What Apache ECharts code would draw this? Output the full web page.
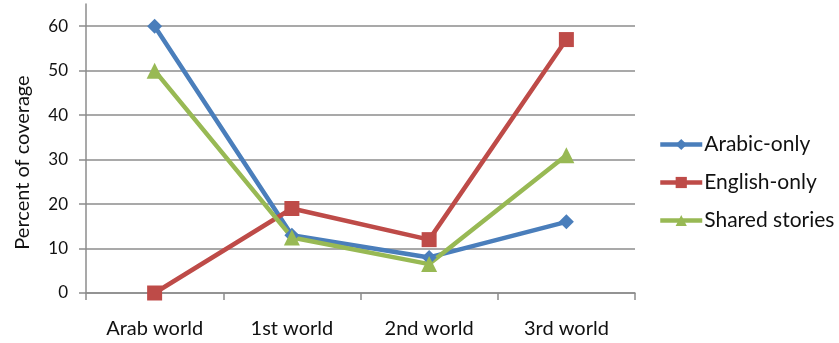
<!DOCTYPE html>
<html>
<head>
<meta charset="utf-8">
<script src="https://cdn.jsdelivr.net/npm/echarts@6/dist/echarts.min.js"></script>
<style>
  html, body { margin: 0; padding: 0; background: #fff; }
  #chart { width: 839px; height: 343px; }
</style>
</head>
<body>
<div id="chart"></div>
<script>
// data
const categories = ['Arab world', '1st world', '2nd world', '3rd world']
const arabicOnly = [60, 13, 8, 16]
const englishOnly = [0, 19, 12, 57]
const sharedStories = [50, 12.5, 6.5, 31]
const yTicks = [0, 10, 20, 30, 40, 50, 60]

const font = 'Lato'
const gridColor = '#8c8c8c'
const textColor = '#111'

const chart = echarts.init(document.getElementById('chart'))

function lineSeries(name, data, color, symbol, size) {
  return {
    name: name,
    type: 'line',
    data: data,
    symbol: symbol,
    symbolSize: size,
    lineStyle: { width: 4.5, color: color },
    itemStyle: { color: color },
    emphasis: { disabled: true },
  }
}

chart.setOption({
  backgroundColor: '#ffffff',
  animation: false,
  textStyle: { fontFamily: font },
  grid: {
    left: 86,
    right: 204,
    top: 4,
    bottom: 50,
  },
  legend: {
    orient: 'vertical',
    left: 658,
    top: 134,
    padding: 0,
    itemWidth: 42,
    itemHeight: 14,
    itemGap: 17,
    lineStyle: { width: 4.5 },
    textStyle: { fontSize: 21, lineHeight: 16, color: textColor, fontFamily: font, padding: [0, 0, 0, -3] },
    data: ['Arabic-only', 'English-only', 'Shared stories'],
  },
  xAxis: {
    type: 'category',
    data: categories,
    boundaryGap: true,
    axisLine: { lineStyle: { color: gridColor, width: 1.5 } },
    axisTick: { show: true, length: 7, lineStyle: { color: gridColor, width: 1.5 } },
    axisLabel: { fontSize: 20, color: textColor, margin: 26 },
  },
  yAxis: {
    type: 'value',
    min: 0,
    max: 65,
    interval: 10,
    name: 'Percent of coverage',
    nameLocation: 'middle',
    nameRotate: 90,
    nameGap: 53,
    nameTextStyle: { fontSize: 20, color: textColor, padding: [0, 28, 0, 0] },
    axisLine: { show: true, lineStyle: { color: gridColor, width: 1.5 } },
    axisTick: { show: true, length: 7, lineStyle: { color: gridColor, width: 1.5 } },
    axisLabel: {
      fontSize: 17,
      color: textColor,
      margin: 18,
      showMaxLabel: false,
      formatter: (v) => (yTicks.includes(v) ? String(v) : ''),
    },
    splitLine: { showMaxLine: false, lineStyle: { color: gridColor, width: 1.5 } },
  },
  series: [
    lineSeries('Arabic-only', arabicOnly, '#4a7ebb', 'diamond', 15),
    lineSeries('English-only', englishOnly, '#be4b48', 'rect', 15),
    lineSeries('Shared stories', sharedStories, '#98b954', 'triangle', 16),
  ],
})
</script>
</body>
</html>
